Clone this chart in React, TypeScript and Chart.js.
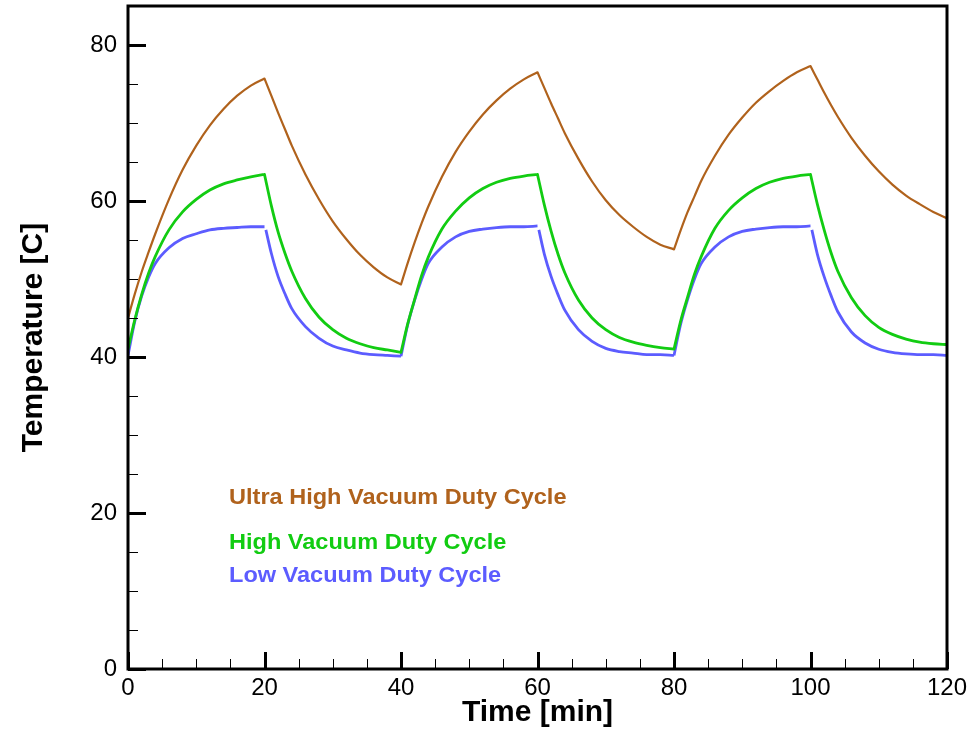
import React, { useEffect, useRef } from 'react';
import { Chart, registerables } from 'chart.js';

Chart.register(...registerables);

// Time axis [min] for the Ultra High and High vacuum curves.
// Each switch time is listed twice (with a break between) so the curve keeps a sharp corner there.
const timeMain = [
  0, 1, 2, 3, 4, 6, 8, 10, 12, 14, 16, 18, 20,
  20, 20, 21, 22, 23, 24, 26, 28, 30, 32, 34, 36, 38, 40,
  40, 40, 41, 42, 43, 44, 46, 48, 50, 52, 54, 56, 58, 60,
  60, 60, 61, 62, 63, 64, 66, 68, 70, 72, 74, 76, 78, 80,
  80, 80, 81, 82, 83, 84, 86, 88, 90, 92, 94, 96, 98, 100,
  100, 100, 101, 102, 103, 104, 106, 108, 110, 112, 114, 116, 118, 120,
];

const ultraHighVacuum: (number | null)[] = [
  45.0, 48.1, 50.9, 53.4, 55.8, 60.2, 64.0, 67.1, 69.7, 71.8, 73.5, 74.8, 75.7,
  null, 75.7, 73.5, 71.3, 69.2, 67.1, 63.4, 60.2, 57.4, 55.1, 53.1, 51.5, 50.2, 49.3,
  null, 49.3, 52.1, 54.7, 57.1, 59.3, 63.1, 66.3, 68.9, 71.1, 72.9, 74.4, 75.6, 76.5,
  null, 76.5, 74.5, 72.5, 70.6, 68.7, 65.4, 62.5, 60.1, 58.2, 56.7, 55.4, 54.4, 53.8,
  null, 53.8, 56.3, 58.6, 60.6, 62.6, 65.8, 68.5, 70.7, 72.6, 74.1, 75.4, 76.5, 77.3,
  null, 77.3, 75.6, 73.9, 72.3, 70.8, 68.1, 65.8, 63.8, 62.1, 60.7, 59.6, 58.6, 57.8,
];

const highVacuum: (number | null)[] = [
  41.0, 44.8, 48.0, 50.7, 52.9, 56.3, 58.6, 60.2, 61.4, 62.2, 62.7, 63.1, 63.4,
  null, 63.4, 59.4, 56.0, 53.3, 51.0, 47.5, 45.1, 43.5, 42.4, 41.7, 41.2, 40.9, 40.6,
  null, 40.6, 44.3, 47.4, 50.4, 52.8, 56.4, 58.7, 60.4, 61.6, 62.4, 62.9, 63.2, 63.4,
  null, 63.4, 59.5, 56.1, 53.2, 50.8, 47.3, 45.0, 43.5, 42.5, 41.9, 41.5, 41.2, 41.0,
  null, 41.0, 44.7, 47.7, 50.6, 52.9, 56.5, 58.8, 60.4, 61.6, 62.4, 62.9, 63.2, 63.4,
  null, 63.4, 59.6, 56.3, 53.4, 51.0, 47.6, 45.3, 43.8, 42.9, 42.3, 41.9, 41.7, 41.6,
];

// Low vacuum curve: small visible break at each switch-off
const timeLow = [
  0, 1, 2, 3, 4, 6, 8, 10, 12, 14, 16, 18, 20,
  20.1, 20.2, 21, 22, 23, 24, 26, 28, 30, 32, 34, 36, 38, 40,
  40, 40, 41, 42, 43, 44, 46, 48, 50, 52, 54, 56, 58, 60,
  60.1, 60.2, 61, 62, 63, 64, 66, 68, 70, 72, 74, 76, 78, 80,
  80, 80, 81, 82, 83, 84, 86, 88, 90, 92, 94, 96, 98, 100,
  100.1, 100.2, 101, 102, 103, 104, 106, 108, 110, 112, 114, 116, 118, 120,
];

const lowVacuum: (number | null)[] = [
  40.2, 44.6, 47.8, 50.2, 52.0, 54.0, 55.2, 55.8, 56.3, 56.5, 56.6, 56.7, 56.7,
  null, 56.3, 53.3, 50.3, 48.1, 46.2, 43.9, 42.4, 41.4, 40.9, 40.5, 40.3, 40.2, 40.1,
  null, 40.1, 44.2, 47.3, 49.9, 52.0, 54.1, 55.4, 56.1, 56.4, 56.6, 56.7, 56.7, 56.8,
  null, 56.3, 53.2, 50.3, 48.0, 46.0, 43.5, 42.0, 41.1, 40.7, 40.5, 40.3, 40.3, 40.2,
  null, 40.2, 44.3, 47.4, 50.0, 52.0, 54.1, 55.4, 56.1, 56.4, 56.6, 56.7, 56.7, 56.8,
  null, 56.3, 53.2, 50.3, 47.9, 45.8, 43.2, 41.8, 41.0, 40.6, 40.4, 40.3, 40.3, 40.2,
];

const seriesNames = ['Ultra High Vacuum Duty Cycle', 'High Vacuum Duty Cycle', 'Low Vacuum Duty Cycle'];
const seriesColors = ['#B0621C', '#12CC12', '#5C5CFF'];
const xLabelTicks = [0, 20, 40, 60, 80, 100, 120];
const yLabelTicks = [0, 20, 40, 60, 80];
const legendAnchorTime = 14.8;
const legendAnchorTemps = [21.9, 16.1, 11.9];

const FONT = '"Liberation Sans", Arial, Helvetica, sans-serif';

const framePlugin = {
  id: 'frameAndTicks',
  afterDatasetsDraw(chart: any) {
    const { ctx, chartArea, scales } = chart;
    const xs = scales.x;
    const ys = scales.y;
    ctx.save();
    ctx.strokeStyle = '#000';
    for (let v = 0; v <= 85; v += 5) {
      const major = v % 20 === 0;
      const py = Math.round(ys.getPixelForValue(v)) + 0.5;
      ctx.lineWidth = major ? 3 : 1;
      ctx.beginPath();
      ctx.moveTo(chartArea.left, py);
      ctx.lineTo(chartArea.left + (major ? 18 : 10), py);
      ctx.stroke();
    }
    for (let v = 0; v <= 120; v += 5) {
      const major = v % 20 === 0;
      const px = Math.round(xs.getPixelForValue(v)) + 0.5;
      ctx.lineWidth = major ? 3 : 1;
      ctx.beginPath();
      ctx.moveTo(px, chartArea.bottom);
      ctx.lineTo(px, chartArea.bottom - (major ? 17 : 10));
      ctx.stroke();
    }
    ctx.lineWidth = 3;
    ctx.strokeRect(chartArea.left, chartArea.top, chartArea.right - chartArea.left, chartArea.bottom - chartArea.top);
    ctx.font = `bold 22px ${FONT}`;
    ctx.textBaseline = 'middle';
    ctx.textAlign = 'left';
    seriesNames.forEach((name, i) => {
      const px = xs.getPixelForValue(legendAnchorTime);
      const py = ys.getPixelForValue(legendAnchorTemps[i]);
      ctx.save();
      ctx.translate(px, py);
      ctx.scale(1.07, 1);
      ctx.fillStyle = seriesColors[i];
      ctx.fillText(name, 0, 0);
      ctx.restore();
    });
    ctx.restore();
  },
};

export default function App() {
  const canvasRef = useRef<HTMLCanvasElement | null>(null);

  useEffect(() => {
    const canvas = canvasRef.current;
    if (!canvas) return;
    const mk = (times: number[], vals: (number | null)[]) =>
      times.map((t, i) => ({ x: t, y: vals[i] }));
    const common = {
      pointRadius: 0,
      cubicInterpolationMode: 'monotone',
      fill: false,
      spanGaps: false,
      borderCapStyle: 'round',
      borderJoinStyle: 'round',
    };
    const chart = new Chart(canvas, {
      type: 'line',
      data: {
        datasets: [
          {
            ...common,
            label: seriesNames[0],
            data: mk(timeMain, ultraHighVacuum),
            borderColor: seriesColors[0],
            borderWidth: 2.2,
          },
          {
            ...common,
            label: seriesNames[1],
            data: mk(timeMain, highVacuum),
            borderColor: seriesColors[1],
            borderWidth: 2.8,
          },
          {
            ...common,
            label: seriesNames[2],
            data: mk(timeLow, lowVacuum),
            borderColor: seriesColors[2],
            borderWidth: 2.8,
            borderCapStyle: 'butt',
          },
        ],
      },
      options: {
        animation: false,
        responsive: false,
        maintainAspectRatio: false,
        layout: { padding: { left: 0, right: 26, top: 6, bottom: 0 } },
        plugins: {
          legend: { display: false },
          tooltip: { enabled: false },
        },
        scales: {
          x: {
            type: 'linear',
            min: 0,
            max: 120,
            afterBuildTicks: (scale: any) => {
              scale.ticks = xLabelTicks.map((v) => ({ value: v }));
            },
            afterFit: (scale: any) => {
              scale.height = 62;
              scale.paddingLeft = 0;
              scale.paddingRight = 0;
            },
            grid: { display: false, drawTicks: false },
            border: { display: false },
            ticks: {
              color: '#000',
              font: { family: FONT, size: 24 },
              padding: 5,
              maxRotation: 0,
              autoSkip: false,
            },
            title: {
              display: true,
              text: 'Time [min]',
              color: '#000',
              font: { family: FONT, size: 30, weight: 'bold' },
              padding: { top: 0, bottom: 0 },
            },
          },
          y: {
            type: 'linear',
            min: 0,
            max: 85,
            afterBuildTicks: (scale: any) => {
              scale.ticks = yLabelTicks.map((v) => ({ value: v }));
            },
            afterFit: (scale: any) => {
              scale.width = 128;
              scale.paddingTop = 0;
              scale.paddingBottom = 0;
            },
            grid: { display: false, drawTicks: false },
            border: { display: false },
            ticks: {
              color: '#000',
              font: { family: FONT, size: 24 },
              padding: 11,
              autoSkip: false,
            },
            title: {
              display: true,
              text: 'Temperature [C]',
              color: '#000',
              font: { family: FONT, size: 30, weight: 'bold' },
              padding: { top: 16, bottom: 0 },
            },
          },
        },
      },
      plugins: [framePlugin],
    } as any);
    return () => chart.destroy();
  }, []);

  return (
    <div style={{ position: 'fixed', left: 0, top: 0, width: 973, height: 731, background: '#fff' }}>
      <canvas ref={canvasRef} width={973} height={731} style={{ display: 'block', width: 973, height: 731 }} />
    </div>
  );
}
